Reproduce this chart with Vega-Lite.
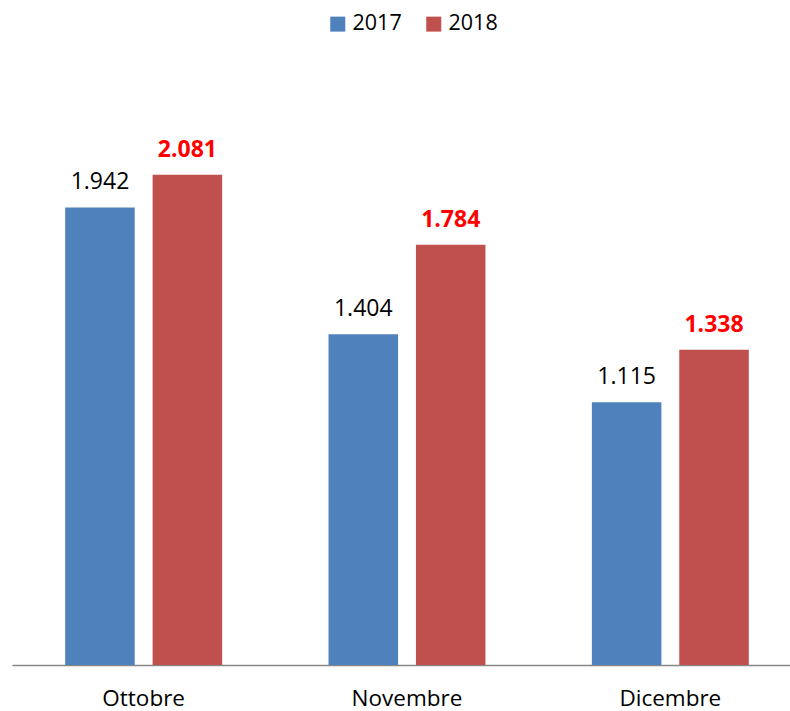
{
  "$schema": "https://vega.github.io/schema/vega-lite/v6.json",
  "width": 790,
  "height": 589,
  "autosize": {"type": "none"},
  "padding": {"left": 12, "top": 76, "right": 0, "bottom": 46},
  "background": "white",
  "config": {
    "view": {"stroke": null},
    "font": "Open Sans",
    "locale": {"number": {"decimal": ",", "thousands": ".", "grouping": [3], "currency": ["€", ""]}}
  },
  "data": {
    "values": [
      {"mese": "Ottobre", "anno": "2017", "valore": 1942},
      {"mese": "Ottobre", "anno": "2018", "valore": 2081},
      {"mese": "Novembre", "anno": "2017", "valore": 1404},
      {"mese": "Novembre", "anno": "2018", "valore": 1784},
      {"mese": "Dicembre", "anno": "2017", "valore": 1115},
      {"mese": "Dicembre", "anno": "2018", "valore": 1338}
    ]
  },
  "encoding": {
    "x": {
      "field": "mese", "type": "nominal", "sort": ["Ottobre", "Novembre", "Dicembre"],
      "scale": {"paddingInner": 0.404, "paddingOuter": 0.202},
      "axis": {"title": null, "labelAngle": 0, "ticks": false, "domainColor": "#888888", "domainWidth": 1.5,
               "labelFontSize": 22.5, "labelColor": "#000000", "labelPadding": 22, "labelFont": "Open Sans"}
    },
    "xOffset": {"field": "anno", "type": "nominal", "scale": {"domain": ["2017", "2018"], "paddingInner": 0.2045, "paddingOuter": 0}},
    "y": {"field": "valore", "type": "quantitative", "scale": {"domain": [0, 2500]}, "axis": null}
  },
  "layer": [
    {
      "mark": {"type": "bar"},
      "encoding": {
        "color": {
          "field": "anno", "type": "nominal",
          "scale": {"domain": ["2017", "2018"], "range": ["#4F81BD", "#C0504D"]},
          "legend": {"title": null, "orient": "none", "legendX": 315, "legendY": -63, "padding": 0,
                     "direction": "horizontal", "symbolType": "square",
                     "symbolSize": 225, "symbolStrokeWidth": 0, "labelFontSize": 21.5, "labelColor": "#000000",
                     "columnPadding": 21, "labelFont": "Open Sans"}
        }
      }
    },
    {
      "transform": [{"filter": "datum.anno === '2017'"}],
      "mark": {"type": "text", "baseline": "alphabetic", "dy": -18, "fontSize": 23, "color": "#000000"},
      "encoding": {
        "text": {"field": "valore", "type": "quantitative", "format": ",d"}
      }
    },
    {
      "transform": [{"filter": "datum.anno === '2018'"}],
      "mark": {"type": "text", "baseline": "alphabetic", "dy": -18, "fontSize": 23, "fontWeight": "bold", "color": "#FF0000"},
      "encoding": {
        "text": {"field": "valore", "type": "quantitative", "format": ",d"}
      }
    }
  ]
}
